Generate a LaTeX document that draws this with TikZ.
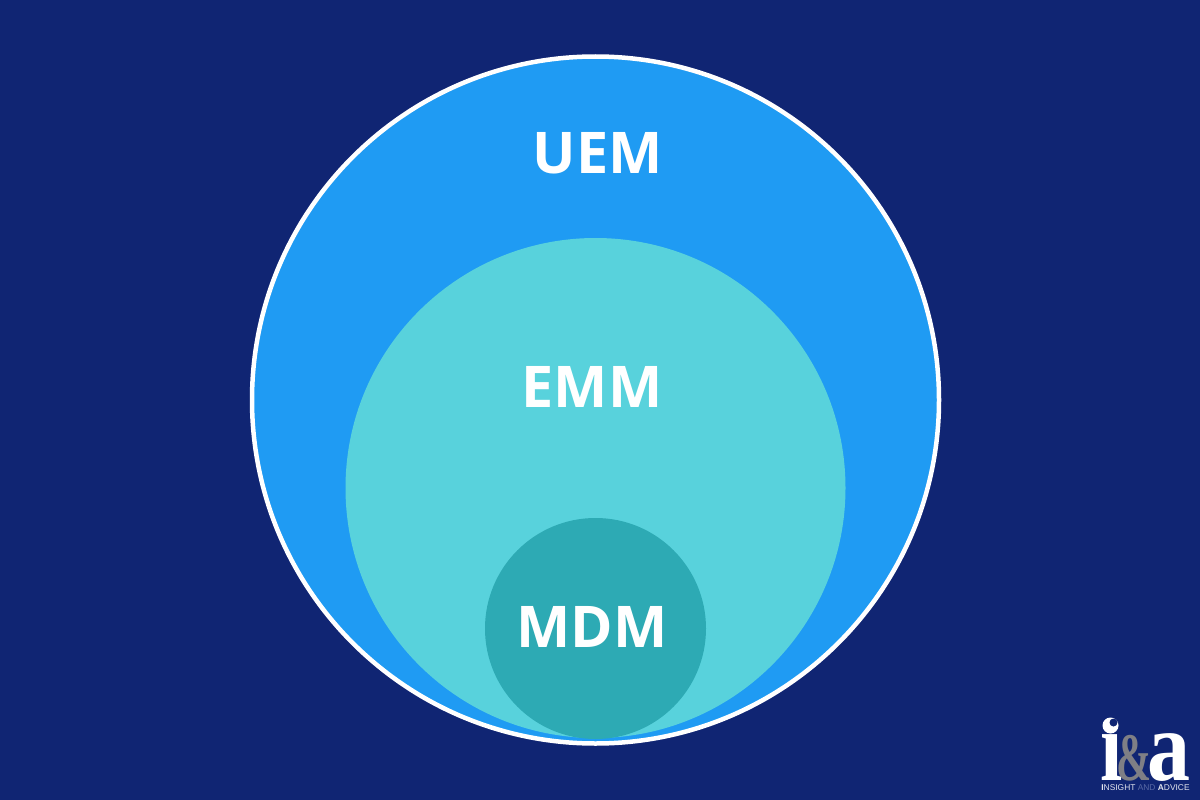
\documentclass[tikz,border=0pt]{standalone}
\usepackage{graphicx}
\usepackage{fontspec}
\setmainfont{Open Sans}
\newfontfamily\logofont{Liberation Serif}
\newfontfamily\logosans{Liberation Sans}
\definecolor{bgc}{HTML}{102573}
\definecolor{uemc}{HTML}{1F9BF3}
\definecolor{emmc}{HTML}{58D2DC}
\definecolor{mdmc}{HTML}{2DAAB4}
\definecolor{logoamp}{HTML}{7F7F85}
\definecolor{logodim}{HTML}{5A6AA5}
\tikzset{
 circlabel/.style={text=white,font=\fontsize{57.5}{57.5}\selectfont\bfseries,inner sep=0pt},
 logoglyph/.style={inner sep=0pt,anchor=base}
}
\begin{document}
\begin{tikzpicture}[x=1pt,y=-1pt]
\useasboundingbox (0,0) rectangle (1200,800);
\fill[bgc] (0,0) rectangle (1200,800);
\begin{scope}
\clip (595.5,400) circle (343.5);
\fill[uemc] (595.5,400) circle (343.5);
\fill[emmc] (595.5,488) circle (250);
\fill[mdmc] (595.5,628.5) circle (110.5);
\end{scope}
\draw[white,line width=4.5] (595.5,400) circle (343.5);
\node[circlabel] (uem) at (597.5,153) {UEM};
\node[circlabel] (emm) at (592,387) {EMM};
\node[circlabel] (mdm) at (592,627) {MDM};
\node[logoglyph,text=logoamp,font=\logofont\bfseries\fontsize{68}{68}\selectfont] (logoamp) at (1134,780) {\scalebox{.62}[1]{\&}};
\node[logoglyph,text=white,font=\logofont\bfseries\fontsize{100}{100}\selectfont] (logoi) at (1112,780) {\scalebox{.8}[1]{ı}};
\node[logoglyph,text=white,font=\logofont\bfseries\fontsize{100}{100}\selectfont] (logoa) at (1169,780) {\scalebox{.86}[1]{a}};
\fill[white] (1110.5,725.5) circle (8);
\fill[bgc] (1113.5,722.5) circle (4);
\node[logoglyph,text=white!88!bgc,font=\logosans\fontsize{8.4}{8.4}\selectfont] (logot) at (1145.5,790) {\textbf{I}NSIGHT \textcolor{logodim}{AND} \textbf{A}DVICE};
\end{tikzpicture}
\end{document}
